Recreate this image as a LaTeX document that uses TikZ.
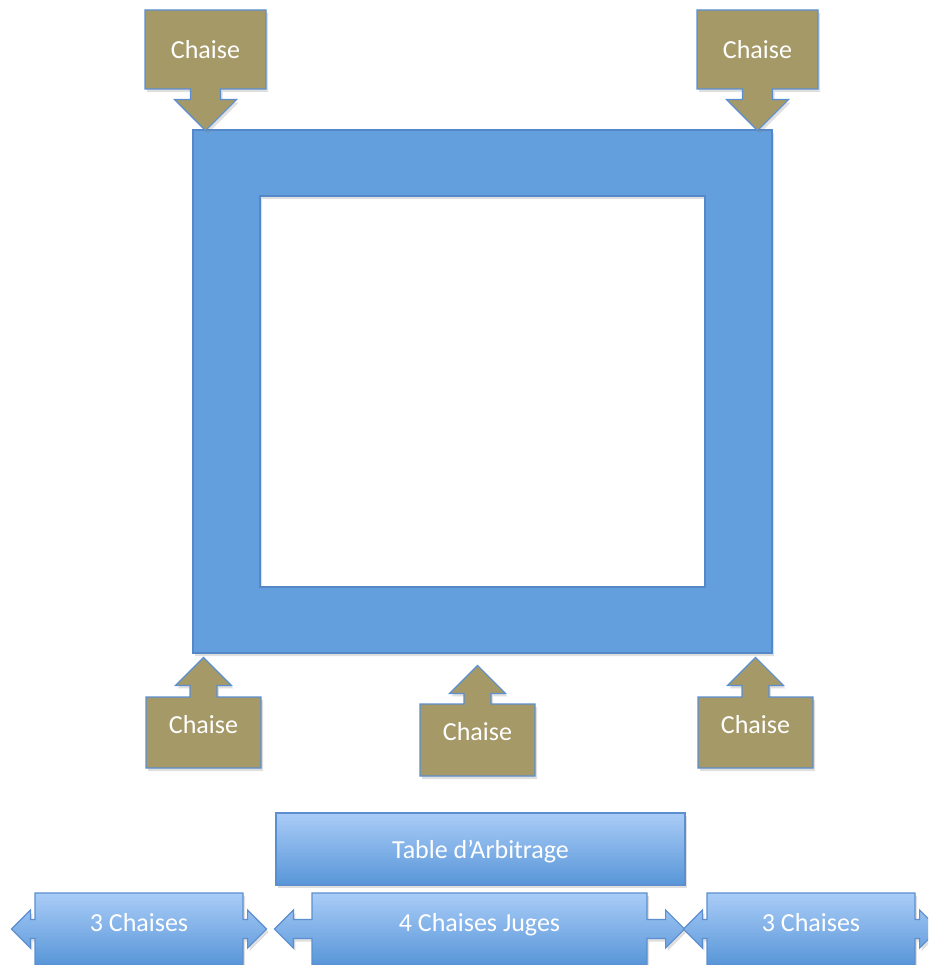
\documentclass[tikz,border=0pt]{standalone}
\usepackage{fontspec}
\setmainfont{Carlito}
\usepackage{xcolor}
\usepackage{tikz}
\usetikzlibrary{shapes.arrows,shadows}

\definecolor{chaisefill}{RGB}{165,153,104}
\definecolor{edgeblue}{RGB}{91,143,208}
\definecolor{framefill}{RGB}{98,159,220}
\definecolor{framedge}{RGB}{84,136,200}
\definecolor{gradtop}{RGB}{170,204,247}
\definecolor{gradbot}{RGB}{88,150,216}

\tikzset{
  softshadow/.style={drop shadow={opacity=0.25,shadow xshift=2pt,shadow yshift=-3pt}},
  label font/.style={font=\fontsize{26pt}{30pt}\selectfont,text=white,inner sep=0pt,
    text height=19pt,text depth=0pt},
  chaise/.style={arrow box,label font,draw=edgeblue,line width=1.2pt,fill=chaisefill,softshadow,
    arrow box tip angle=90,
    arrow box arrows={north:0pt,south:0pt,east:0pt,west:0pt}},
  chaise top/.style={chaise,minimum width=121pt,minimum height=79pt,
    arrow box shaft width=30pt,arrow box head extend=16pt,arrow box south arrow=41pt},
  chaise bottom/.style={chaise,minimum width=115pt,minimum height=71pt,
    arrow box shaft width=27pt,arrow box head extend=14.5pt,arrow box north arrow=39pt},
  bench/.style={arrow box,label font,draw=edgeblue,line width=1.2pt,
    top color=gradtop,bottom color=gradbot,softshadow,minimum height=72pt,
    arrow box tip angle=90,arrow box shaft width=19pt,arrow box head extend=9.5pt,
    arrow box arrows={north:0pt,south:0pt,east:23pt,west:23pt}},
  tablebox/.style={rectangle,label font,draw=edgeblue,line width=1.2pt,
    top color=gradtop,bottom color=gradbot,softshadow,minimum width=409pt,minimum height=72pt}
}

\begin{document}
\begin{tikzpicture}[x=1pt,y=-1pt]
  \useasboundingbox (0,0) rectangle (928,965);
  \clip (0,0) rectangle (928,965);
  \fill[white] (0,0) rectangle (928,965);

  \draw[fill=framefill,draw=framedge,line width=1.2pt,even odd rule,
    drop shadow={opacity=0.25,even odd rule,shadow xshift=2pt,shadow yshift=-3pt}]
    (193,130) rectangle (772,653) (260,196) rectangle (705,587);

  \node[chaise top] (chaiseTL) at (205.5,49.5) {Chaise};
  \node[chaise top] (chaiseTR) at (757.5,49.5) {Chaise};
  \node[chaise bottom] (chaiseBL) at (203.5,732.5) {\raisebox{9pt}{Chaise}};
  \node[chaise bottom,minimum height=72pt,arrow box north arrow=38pt] (chaiseBM) at (477.5,740) {\raisebox{9pt}{Chaise}};
  \node[chaise bottom] (chaiseBR) at (755.5,732.5) {\raisebox{9pt}{Chaise}};

  \node[tablebox] (arbitrage) at (480.5,849) {Table d’Arbitrage};

  \node[bench,minimum width=208pt] (gauche) at (139,929) {\raisebox{7pt}{3 Chaises}};
  \node[bench,minimum width=335pt,arrow box arrows={east:37pt,west:37pt}] (juges) at (479.5,929) {\raisebox{7pt}{4 Chaises Juges}};
  \node[bench,minimum width=208pt] (droite) at (811,929) {\raisebox{7pt}{3 Chaises}};
\end{tikzpicture}
\end{document}
